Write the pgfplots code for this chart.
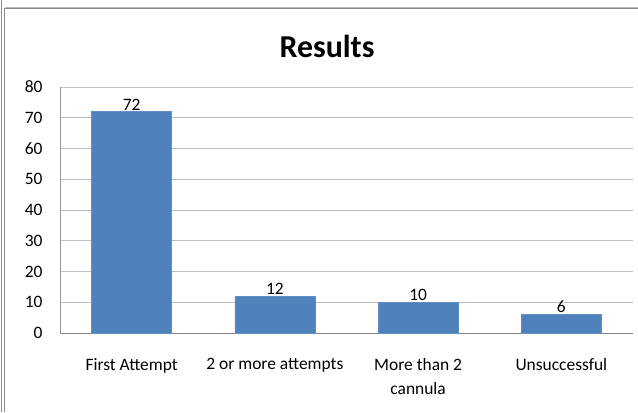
\documentclass[border=0pt]{standalone}
\usepackage{pgfplots}
\pgfplotsset{compat=1.18}
\usepackage{fontspec}
\setmainfont{Carlito}
\definecolor{barblue}{HTML}{4F81BD}
\definecolor{gridgray}{HTML}{BEBEBE}
\definecolor{framegray}{HTML}{8C8C8C}
\begin{document}
\begin{tikzpicture}[x=1bp,y=1bp]
\useasboundingbox (0,0) rectangle (638,412);
\fill[white] (0,0) rectangle (638,412);
\draw[framegray,line width=0.8bp] (1.5,0) -- (1.5,412);
\draw[framegray,line width=0.8bp] (4.5,0) -- (4.5,404) -- (638,404);
\draw[framegray!60,line width=0.6bp] (4.5,404.5) -- (638,404.5);
\node[font=\bfseries\fontsize{32}{38}\selectfont] at (327,366) {Results};
\begin{axis}[
  at={(60bp,79bp)}, anchor=south west,
  scale only axis, width=573bp, height=246bp,
  ymin=0, ymax=80, ytick={0,10,...,80},
  xmin=-0.5, xmax=3.5,
  xtick={0,1,2,3},
  xticklabels={First Attempt,2 or more attempts,More than 2\\cannula,Unsuccessful},
  xticklabel style={align=center, yshift=-22bp, font=\fontsize{17.5}{24}\selectfont},
  yticklabel style={font=\fontsize{17.5}{20}\selectfont, xshift=-14bp},
  /pgf/number format/assume math mode=true,
  ymajorgrids, grid style={gridgray, line width=0.6bp},
  axis x line*=bottom, axis y line*=left,
  axis line style={gridgray!80!black, line width=0.6bp, -},
  x axis line style={draw=gridgray!70!black},
  major tick length=0bp,
  xtick style={draw=none},
  ytick style={draw=none},
  ybar, bar width=80bp,
  nodes near coords,
  every node near coord/.append style={font=\fontsize{17.5}{20}\selectfont, black, yshift=-2bp},
  clip=false,
]
\addplot[fill=barblue, draw=barblue!90!white] coordinates {(0,72) (1,12) (2,10) (3,6)};
\end{axis}
\end{tikzpicture}
\end{document}
